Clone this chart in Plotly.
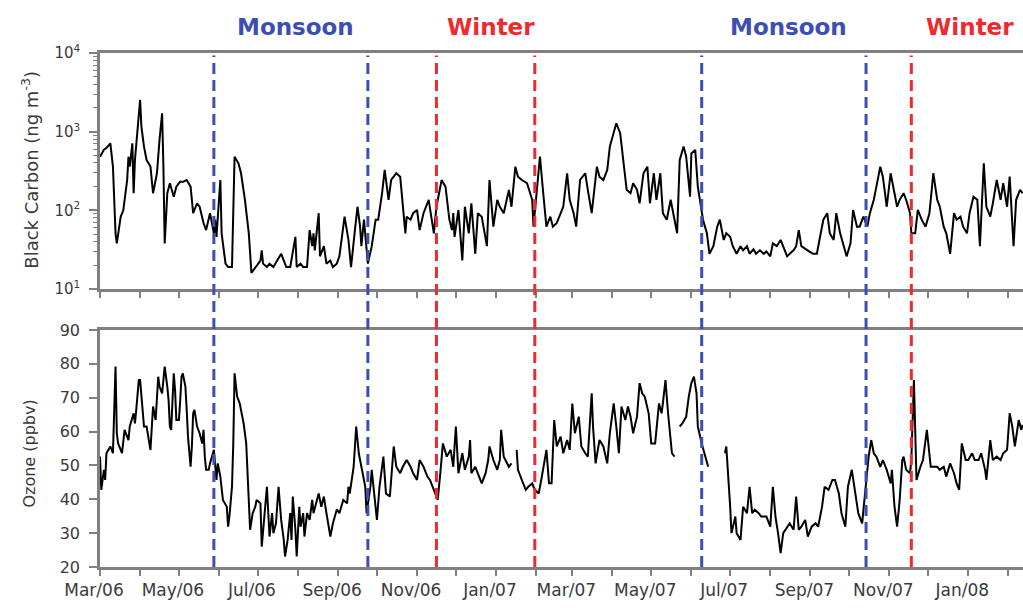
import pandas as pd
import plotly.graph_objects as go

START = pd.Timestamp("2006-03-01")
END = START + pd.Timedelta(days=713.3)

# Black carbon (ng m^-3): day offset from START and concentration
bc_day = [
    0, 3, 5, 8, 10, 12, 13, 16, 18, 21, 22, 23, 25, 26, 27, 29, 31, 32, 34, 36, 39, 41, 44, 46, 48, 49, 50,
    52, 54, 57, 59, 62, 64, 67, 70, 71, 72, 75, 77, 80, 82, 85, 88, 89, 90, 93, 94, 97, 99, 102, 104,
    107, 109, 112, 115, 117, 120, 124, 125, 126, 129, 131, 134, 137, 140, 144, 147, 151, 152, 155, 157, 160, 162, 164, 165, 166, 169, 170,
    173, 175, 178, 180, 183, 185, 189, 192, 194, 197, 199, 201, 202, 204, 206, 207, 210, 213, 215, 218, 220, 223, 225, 229, 232,
    236, 237, 240, 242, 245, 247, 250, 254, 258, 260, 264, 267, 268, 270, 272, 273, 274, 277, 280, 282, 285, 287, 290, 292, 295, 299, 301,
    304, 307, 309, 312, 316, 318, 321, 323, 326, 330, 334, 335, 338, 340, 343, 345, 348, 350, 353, 356, 358, 361, 363, 366,
    368, 371, 375, 377, 380, 384, 386, 389, 392, 394, 397, 399, 402, 405, 407, 410, 412, 415, 417, 420, 423, 425, 428, 430, 433,
    435, 438, 441, 443, 446, 448, 451, 453, 456, 457, 460, 462, 465, 466, 469, 471, 474, 477, 479, 482, 484, 487, 489, 492, 495, 497, 500,
    502, 505, 507, 510, 513, 515, 518, 520, 523, 526, 528, 531, 533, 536, 538, 540, 542, 546, 548, 551, 554, 556, 559, 562, 564, 567, 569,
    572, 574, 577, 580, 582, 585, 587, 590, 593, 595, 598, 600, 603, 605, 608, 611, 613, 616, 618, 621, 623, 626, 627, 630, 632, 635, 638,
    641, 644, 647, 649, 652, 654, 657, 660, 662, 665, 667, 670, 672, 675, 678, 680, 683, 685, 688, 690, 693, 696, 698, 701, 703, 706, 708, 711, 713,
]
bc_ngm3 = [
    480, 590, 620, 710, 360, 51, 38, 83, 100, 243, 480, 360, 710, 165, 436, 1160, 2530, 1160, 646, 436, 360, 165, 296, 785, 1714, 360, 38,
    165, 221, 149, 200, 232, 230, 243, 200, 136, 92, 123, 111, 69, 56, 92, 51, 76, 46, 243, 51, 21, 19, 19, 481,
    396, 296, 136, 51, 16, 19, 23, 31, 21, 19, 21, 19, 23, 28, 19, 19, 46, 19, 21, 19, 19, 56, 35, 51, 31, 92, 26,
    35, 21, 23, 19, 21, 26, 83, 42, 19, 56, 111, 62, 35, 76, 28, 21, 35, 76, 76, 165, 326, 136, 243, 296, 268,
    51, 83, 76, 92, 101, 56, 92, 136, 51, 111, 243, 200, 136, 76, 56, 92, 46, 101, 23, 111, 51, 123, 28, 92, 83, 35, 243,
    62, 136, 111, 92, 182, 111, 359, 268, 243, 221, 136, 62, 243, 481, 136, 62, 83, 62, 69, 92, 111, 296, 136, 92,
    62, 243, 296, 182, 92, 359, 268, 243, 326, 646, 955, 1279, 955, 326, 182, 165, 221, 182, 123, 296, 359, 123, 296, 136, 296,
    92, 76, 136, 92, 51, 436, 646, 481, 149, 530, 586, 200, 92, 76, 51, 28, 35, 62, 76, 42, 51, 46, 35, 28, 35, 31, 35,
    28, 32, 28, 31, 28, 30, 26, 38, 35, 42, 35, 26, 28, 31, 35, 56, 35, 31, 30, 28, 28, 42, 76, 92, 51, 42, 92,
    51, 38, 26, 38, 101, 62, 62, 83, 62, 92, 136, 200, 359, 268, 111, 296, 200, 111, 136, 165, 136, 92, 51, 51, 101, 76, 62,
    92, 296, 136, 111, 62, 51, 28, 92, 76, 83, 62, 51, 92, 149, 136, 35, 396, 111, 83, 123, 243, 136, 221, 111, 268, 35, 136, 182, 165,
]

# Ozone (ppbv): day offset from START and mixing ratio (None = no data)
o3_day = [
    0, 1, 3, 4, 5, 8, 10, 12, 13, 14, 17, 19, 22, 23, 26, 27, 28, 30, 31, 32, 34, 36, 37, 39, 41, 43, 45, 46, 48, 50,
    52, 53, 54, 55, 57, 58, 59, 61, 62, 63, 64, 66, 67, 68, 70, 71, 72, 73, 75, 77, 79, 80, 81, 82, 84, 85, 88, 90, 91, 93, 95, 98, 99, 100, 102, 103, 104,
    106, 108, 111, 113, 115, 116, 118, 120, 121, 124, 125, 126, 129, 131, 133, 134, 136, 138, 140, 142, 143, 145, 147, 148, 149, 151, 152,
    154, 155, 157, 158, 160, 162, 164, 165, 167, 169, 171, 173, 175, 178, 180, 183, 185, 188, 191, 192, 193, 196, 198, 200, 202, 205, 206, 209, 210, 212, 214, 216, 219, 221, 224, 227, 229, 232,
    234, 237, 240, 242, 245, 247, 250, 253, 255, 258, 261, 263, 265, 268, 271, 273, 275, 277, 280, 282, 285, 286, 287, 290, 292, 295, 298, 300, 301, 304, 307, 309, 310, 312, 316, 318,
    319, 322, 323, 326, 329, 331, 334, 336, 339, 341, 343, 345, 347, 349, 351, 353, 356, 358, 361, 363, 365, 367, 370, 372, 375, 377, 380, 381,
    383, 386, 389, 392, 394, 397, 399, 401, 403, 406, 408, 410, 412, 415, 417, 419, 421, 424, 426, 429, 432, 434, 435, 437, 439, 442, 444,
    446, 448, 450, 453, 455, 457, 459, 461, 462, 465, 468, 470, 476, 483, 484, 487, 488, 491, 492, 495, 497, 500, 502, 504, 506, 509, 511, 515, 518, 520, 522, 524, 526,
    528, 531, 533, 536, 538, 540, 542, 545, 547, 550, 553, 555, 558, 560, 563, 566, 568, 571, 573, 576, 578, 581, 584, 586, 589, 591, 594, 596, 598, 600,
    603, 605, 608, 611, 612, 614, 616, 618, 620, 621, 623, 626, 627, 629, 630, 631, 634, 636, 639, 642, 644, 647, 649, 652, 654, 657, 660, 662, 664,
    666, 669, 671, 674, 676, 679, 681, 684, 685, 688, 690, 693, 696, 698, 701, 703, 705, 707, 710, 712, 713,
]
o3_ppbv = [
    52.6, 42.8, 48.7, 45.7, 53.6, 55.6, 53.6, 79.2, 59.5, 56.5, 53.6, 60.5, 57.5, 61.5, 65.4, 62.4, 66.4, 75.2, 75.2, 71.3, 61.5, 61.5, 59.5, 54.6, 67.4, 63.4, 76.2, 73.3, 71.3, 79.2,
    73.3, 69.3, 61.5, 60.5, 77.2, 72.3, 63.4, 63.4, 69.3, 76.2, 77.2, 73.3, 66.4, 58.5, 49.6, 55.6, 65.4, 66.4, 61.5, 59.5, 56.5, 60.5, 52.6, 48.7, 48.7, 50.6, 54.6, 45.7, 50.6, 46.7, 39.8, 37.8, 31.9, 34.9, 43.7, 56.5, 77.2,
    70.3, 68.3, 62.4, 56.5, 40.8, 31.0, 35.9, 37.8, 39.8, 38.8, 26.0, 30.0, 43.7, 29.0, 35.9, 30.0, 32.9, 43.7, 33.9, 28.0, 23.1, 28.0, 35.9, 28.0, 40.8, 31.0, 23.1,
    37.8, 31.9, 35.9, 29.0, 35.9, 33.9, 39.8, 35.9, 38.8, 41.7, 37.8, 40.8, 35.9, 29.0, 32.9, 37.0, 35.9, 39.8, 38.8, 43.7, 41.7, 49.6, 61.5, 53.6, 49.6, 43.7, 35.9, 43.7, 48.7, 41.7, 33.9, 43.7, 52.6, 41.7, 40.8, 55.6, 49.6, 47.7,
    49.6, 51.6, 49.6, 47.7, 45.7, 51.6, 49.6, 46.7, 45.7, 42.8, 39.8, 47.7, 56.5, 52.6, 54.6, 49.6, 61.5, 47.7, 53.6, 48.7, 52.6, 57.5, 47.7, 49.6, 47.7, 44.7, 47.7, 51.6, 55.6, 51.6, 48.7, 51.6, 60.5, 52.6, 49.6, 50.6,
    None, 54.6, 48.7, 45.7, 42.8, 43.7, 44.7, 42.8, 41.7, 45.7, 49.6, 54.6, 44.7, 44.7, 63.4, 55.6, 58.5, 53.6, 57.5, 54.6, 68.3, 59.5, 64.4, 55.6, 53.6, 52.6, 71.3, 61.5,
    50.6, 57.5, 55.6, 50.6, 59.5, 68.3, 61.5, 53.6, 67.4, 63.4, 67.4, 64.4, 59.5, 64.4, 74.3, 71.3, 70.3, 65.4, 56.5, 56.5, 68.3, 65.4, 68.3, 75.2, 65.4, 53.6, 52.6,
    None, 61.5, 62.4, 64.4, 70.3, 74.3, 76.2, 71.3, 61.5, 56.5, 52.6, 49.6, None, 53.6, 55.6, 37.8, 30.0, 34.9, 30.0, 28.0, 37.8, 35.9, 43.7, 35.9, 36.9, 35.9, 34.9, 34.9, 31.9, 43.7, 34.9, 30.0, 24.1,
    30.0, 31.9, 32.9, 31.0, 40.8, 31.0, 31.9, 33.9, 29.0, 31.9, 32.9, 31.9, 37.8, 43.7, 42.8, 45.7, 45.7, 41.7, 35.9, 31.9, 43.7, 48.7, 40.8, 35.9, 32.9, 41.7, 52.6, 57.5, 53.6, 52.6,
    49.6, 51.6, 48.7, 44.7, 48.7, 37.8, 31.9, 39.8, 51.6, 52.6, 48.7, 47.7, 51.6, 75.2, 61.5, 45.7, 49.6, 51.6, 60.5, 49.6, 49.6, 49.6, 48.7, 49.6, 46.7, 50.6, 47.7, 44.7, 42.8,
    56.5, 51.6, 51.6, 53.6, 51.6, 51.6, 53.6, 48.7, 45.7, 57.5, 51.6, 52.6, 51.6, 53.6, 54.6, 65.4, 61.5, 55.6, 63.4, 60.5, 62.0,
]

# Season boundaries and season labels
monsoon_bounds = ["2006-05-28", "2006-09-24", "2007-06-09", "2007-10-14"]
winter_bounds = ["2006-11-16", "2007-01-31", "2007-11-18"]
season_labels = [("Monsoon", "2006-07-30"), ("Winter", "2006-12-28"),
                 ("Monsoon", "2007-08-15"), ("Winter", "2008-01-02")]

# Axis ticks: labelled every second month, plain ticks in between
month_ticks = pd.date_range(START, periods=24, freq="MS")
label_ticks = list(month_ticks[::2])
label_text = [d.strftime("%b/%y") for d in label_ticks]
plain_ticks = list(month_ticks[1::2])
bc_major = [10, 100, 1000, 10000]
bc_major_text = ["10<sup>1</sup>", "10<sup>2</sup>", "10<sup>3</sup>", "10<sup>4</sup>"]
bc_minor = [m * 10 ** e for e in range(1, 4) for m in range(2, 10)]

BLUE = "#3d4eb3"
RED = "#ee2a2e"
AXIS = "#808080"
TEXT = "#3a3a3a"
FONT = "DejaVu Sans"

bc_dates = [START + pd.Timedelta(days=d) for d in bc_day]
o3_dates = [START + pd.Timedelta(days=d) for d in o3_day]

fig = go.Figure()
fig.add_trace(go.Scatter(x=bc_dates, y=bc_ngm3, mode="lines",
                         line=dict(color="black", width=2),
                         xaxis="x", yaxis="y", showlegend=False))
fig.add_trace(go.Scatter(x=o3_dates, y=o3_ppbv, mode="lines", connectgaps=False,
                         line=dict(color="black", width=2),
                         xaxis="x2", yaxis="y2", showlegend=False))

common_x = dict(range=[START, END], showgrid=False, zeroline=False,
                showline=True, mirror=True, linecolor=AXIS, linewidth=2.5,
                tickmode="array", tickvals=label_ticks, ticks="outside",
                ticklen=6, tickwidth=1.5, tickcolor=AXIS,
                minor=dict(tickmode="array", tickvals=plain_ticks, ticks="outside",
                           ticklen=6, tickwidth=1.5, tickcolor=AXIS, showgrid=False))

fig.update_layout(
    width=1023, height=608,
    margin=dict(l=100, r=0, t=53, b=41),
    paper_bgcolor="white", plot_bgcolor="white",
    font=dict(family=FONT, color=TEXT),
    xaxis=dict(domain=[0, 1], anchor="y", showticklabels=False, **common_x),
    xaxis2=dict(domain=[0, 1], anchor="y2", matches="x", ticktext=label_text,
                tickfont=dict(size=17, color=TEXT, family=FONT),
                ticklabelshift=-6, **common_x),
    yaxis=dict(domain=[0.5409, 1], anchor="x", type="log", range=[1, 4],
               showgrid=False, zeroline=False, showline=True, linecolor=AXIS, linewidth=2.5,
               tickmode="array", tickvals=bc_major, ticktext=bc_major_text,
               ticks="outside", ticklen=8, tickwidth=1.5, tickcolor=AXIS,
               tickfont=dict(size=15, color=TEXT, family=FONT), ticklabelstandoff=6,
               minor=dict(tickmode="array", tickvals=bc_minor, ticks="outside",
                          ticklen=4, tickwidth=1, tickcolor=AXIS, showgrid=False)),
    yaxis2=dict(domain=[0, 0.4611], anchor="x2", range=[20, 90], dtick=10,
                showgrid=False, zeroline=False, showline=True, linecolor=AXIS, linewidth=2.5,
                ticks="outside", ticklen=8, tickwidth=1.5, tickcolor=AXIS,
                tickfont=dict(size=16, color=TEXT, family=FONT), ticklabelstandoff=6),
)

# Season boundary lines spanning both panels
for d in monsoon_bounds:
    fig.add_shape(type="line", xref="x", yref="paper", x0=d, x1=d, y0=0, y1=0.995,
                  line=dict(color=BLUE, width=3, dash="11px,6px"))
for d in winter_bounds:
    fig.add_shape(type="line", xref="x", yref="paper", x0=d, x1=d, y0=0, y1=0.995,
                  line=dict(color=RED, width=3, dash="11px,6px"))

for name, d in season_labels:
    fig.add_annotation(x=d, y=1.05, xref="x", yref="paper", text=name, showarrow=False,
                       xanchor="center", yanchor="middle",
                       font=dict(family=FONT, size=23, color=BLUE if name == "Monsoon" else RED,
                                 weight="bold"))

# Vertical axis titles
fig.add_annotation(x=-0.0758, y=0.773, xref="paper", yref="paper", textangle=-90,
                   text="Black Carbon (ng m<sup>-3</sup>)", showarrow=False,
                   xanchor="center", yanchor="middle",
                   font=dict(family=FONT, size=18, color=TEXT))
fig.add_annotation(x=-0.0758, y=0.2207, xref="paper", yref="paper", textangle=-90,
                   text="Ozone (ppbv)", showarrow=False,
                   xanchor="center", yanchor="middle",
                   font=dict(family=FONT, size=16, color=TEXT))

fig.write_html("out.html")
